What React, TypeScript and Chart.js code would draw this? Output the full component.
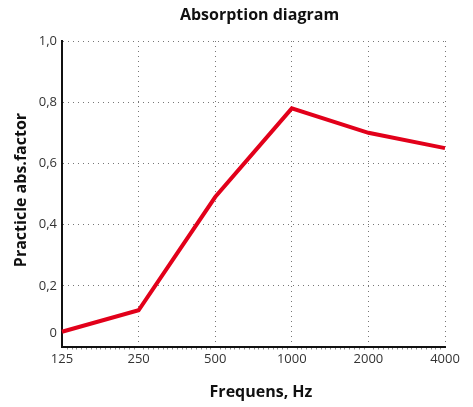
import React, { useEffect, useRef } from "react";
import { Chart, registerables } from "chart.js";

Chart.register(...registerables);

const frequencies = ["125", "250", "500", "1000", "2000", "4000"];
const absorption = [0.05, 0.12, 0.49, 0.78, 0.7, 0.65];
const yTickValues = [0, 0.2, 0.4, 0.6, 0.8, 1.0];
const yTickLabels = ["0", "0,2", "0,4", "0,6", "0,8", "1,0"];
const chartTitle = "Absorption diagram";
const xTitle = "Frequens, Hz";
const yTitle = "Practicle abs.factor";

const FONT = "'Open Sans', 'Noto Sans', sans-serif";

const overlayPlugin = {
  id: "overlay",
  afterDraw(chart: any) {
    const { ctx, chartArea, scales } = chart;
    const x = scales.x;
    const y = scales.y;
    ctx.save();
    // minor ticks on x axis
    ctx.strokeStyle = "#888";
    ctx.lineWidth = 1;
    ctx.beginPath();
    for (let i = 0; i < frequencies.length - 1; i++) {
      const x0 = x.getPixelForValue(i);
      const x1 = x.getPixelForValue(i + 1);
      for (let j = 1; j < 16; j++) {
        const px = Math.round(x0 + ((x1 - x0) * j) / 16) + 0.5;
        ctx.moveTo(px, chartArea.bottom + 1);
        ctx.lineTo(px, chartArea.bottom + 2.5);
      }
    }
    ctx.stroke();

    // zero label, lifted above the x axis labels
    ctx.fillStyle = "#333";
    ctx.font = `13px ${FONT}`;
    ctx.textAlign = "right";
    ctx.textBaseline = "middle";
    ctx.fillText(yTickLabels[0], chartArea.left - 5, y.getPixelForValue(0) - 14);

    // titles
    ctx.fillStyle = "#111";
    ctx.font = `bold 16px ${FONT}`;
    ctx.textAlign = "center";
    ctx.textBaseline = "middle";
    ctx.fillText(chartTitle, 259.5, 15);
    ctx.fillText(xTitle, 261, 392);
    ctx.translate(21, (chartArea.top + chartArea.bottom) / 2 - 4);
    ctx.rotate(-Math.PI / 2);
    ctx.fillText(yTitle, 0, 0);
    ctx.restore();
  },
};

export default function App() {
  const ref = useRef<HTMLCanvasElement | null>(null);

  useEffect(() => {
    if (!ref.current) return;
    const chart = new Chart(ref.current, {
      type: "line",
      data: {
        labels: frequencies,
        datasets: [
          {
            data: absorption,
            borderColor: "#e2001a",
            borderWidth: 4,
            pointRadius: 0,
            tension: 0,
            fill: false,
          },
        ],
      },
      options: {
        animation: false,
        responsive: false,
        devicePixelRatio: 1,
        layout: { padding: { top: 41, right: 28, left: 0, bottom: 0 } },
        plugins: {
          legend: { display: false },
          title: { display: false },
          tooltip: { enabled: false },
        },
        scales: {
          x: {
            type: "category",
            offset: false,
            afterFit: (s: any) => {
              s.height = 60;
            },
            grid: { color: "#777", lineWidth: 1, drawTicks: false },
            border: { color: "#111", width: 2, dash: [1, 4] },
            ticks: {
              color: "#333",
              font: { family: FONT, size: 13 },
              padding: 4,
              maxRotation: 0,
              autoSkip: false,
            },
          },
          y: {
            min: 0,
            max: 1,
            afterFit: (s: any) => {
              s.width = 62;
            },
            afterBuildTicks: (s: any) => {
              s.ticks = yTickValues.map((v) => ({ value: v }));
            },
            grid: { color: "#777", lineWidth: 1, drawTicks: false },
            border: { color: "#111", width: 2, dash: [1, 4] },
            ticks: {
              color: "#333",
              font: { family: FONT, size: 13 },
              padding: 5,
              callback: (v: any) => {
                const i = yTickValues.findIndex((t) => Math.abs(t - Number(v)) < 1e-6);
                return i <= 0 ? "" : yTickLabels[i];
              },
            },
          },
        },
      },
      plugins: [overlayPlugin],
    });
    return () => chart.destroy();
  }, []);

  return (
    <div style={{ position: "fixed", left: 0, top: 0, width: 473, height: 407, background: "#fff" }}>
      <canvas ref={ref} width={473} height={407} style={{ display: "block", width: 473, height: 407 }} />
    </div>
  );
}
